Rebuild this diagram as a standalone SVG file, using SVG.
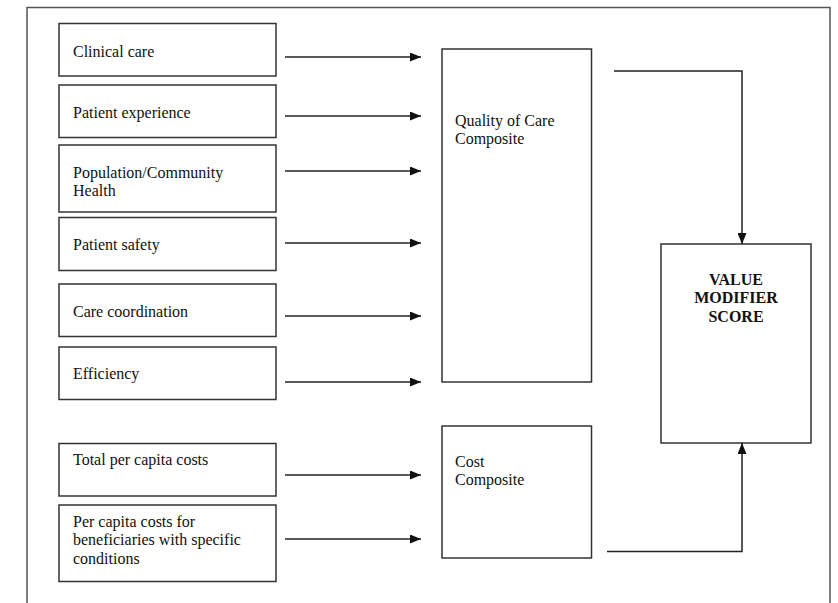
<svg xmlns="http://www.w3.org/2000/svg" width="838" height="603" viewBox="0 0 838 603">
<defs>
<marker id="ah" markerWidth="11" markerHeight="9" refX="11" refY="4.5" orient="auto" markerUnits="userSpaceOnUse">
<path d="M0,0 L11,4.5 L0,9 Z" fill="#111"/>
</marker>
<style>
.box{fill:#fff;stroke:#333;stroke-width:1.5}
.t{font-family:"Liberation Serif","Times New Roman",serif;font-size:16px;fill:#111}
.b{font-weight:bold;text-anchor:middle}
.c{fill:none;stroke:#222;stroke-width:1.5}
.frame{fill:none;stroke:#555;stroke-width:1.5}
</style>
</defs>
<rect width="838" height="603" fill="#fff"/>
<path class="frame" d="M27,603 V7.5 H830 V603"/>
<g id="clinical-care"><rect class="box" x="59" y="23.5" width="217" height="52.5"/><text class="t" x="73" y="56.5">Clinical care</text></g>
<g id="patient-experience"><rect class="box" x="59" y="85" width="217" height="52.5"/><text class="t" x="73" y="118">Patient experience</text></g>
<g id="population-health"><rect class="box" x="59" y="145" width="217" height="67"/><text class="t" x="73" y="178">Population/Community</text><text class="t" x="73" y="196.4">Health</text></g>
<g id="patient-safety"><rect class="box" x="59" y="217.5" width="217" height="53"/><text class="t" x="73" y="250">Patient safety</text></g>
<g id="care-coordination"><rect class="box" x="59" y="284" width="217" height="52.5"/><text class="t" x="73" y="316.5">Care coordination</text></g>
<g id="efficiency"><rect class="box" x="59" y="347" width="217" height="52.5"/><text class="t" x="73" y="379">Efficiency</text></g>
<g id="total-costs"><rect class="box" x="59" y="443.5" width="217" height="52.5"/><text class="t" x="73" y="465">Total per capita costs</text></g>
<g id="specific-costs"><rect class="box" x="59" y="505" width="217" height="76.5"/><text class="t" x="73" y="527">Per capita costs for</text><text class="t" x="73" y="545.4">beneficiaries with specific</text><text class="t" x="73" y="563.8">conditions</text></g>
<g id="quality-composite"><rect class="box" x="442" y="49" width="149.5" height="333"/><text class="t" x="455" y="126">Quality of Care</text><text class="t" x="455" y="144.4">Composite</text></g>
<g id="cost-composite"><rect class="box" x="442" y="426" width="149.5" height="132"/><text class="t" x="455" y="466.5">Cost</text><text class="t" x="455" y="484.9">Composite</text></g>
<g id="value-modifier"><rect class="box" x="661" y="244" width="150" height="199"/><text class="t b" x="736" y="285">VALUE</text><text class="t b" x="736" y="303.4">MODIFIER</text><text class="t b" x="736" y="321.8">SCORE</text></g>
<g id="connectors">
<line class="c" x1="285" y1="57" x2="421" y2="57" marker-end="url(#ah)"/>
<line class="c" x1="285" y1="116" x2="421" y2="116" marker-end="url(#ah)"/>
<line class="c" x1="285" y1="171" x2="421" y2="171" marker-end="url(#ah)"/>
<line class="c" x1="285" y1="243" x2="421" y2="243" marker-end="url(#ah)"/>
<line class="c" x1="285" y1="316" x2="421" y2="316" marker-end="url(#ah)"/>
<line class="c" x1="285" y1="382" x2="421" y2="382" marker-end="url(#ah)"/>
<line class="c" x1="285" y1="475" x2="421" y2="475" marker-end="url(#ah)"/>
<line class="c" x1="285" y1="539" x2="421" y2="539" marker-end="url(#ah)"/>
<polyline class="c" points="614,71 742,71 742,244" marker-end="url(#ah)"/>
<polyline class="c" points="607,551.5 742,551.5 742,443" marker-end="url(#ah)"/>
</g>
</svg>
